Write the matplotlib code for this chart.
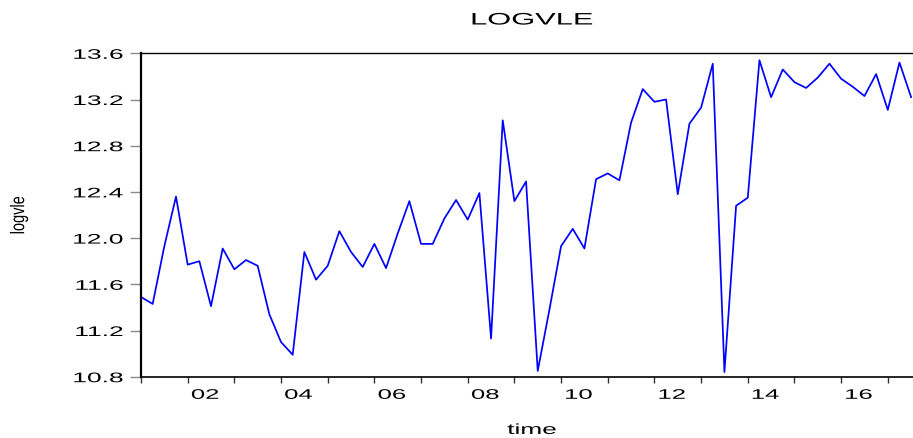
import numpy as np
import matplotlib
matplotlib.use("Agg")
import matplotlib.pyplot as plt
from matplotlib.patheffects import AbstractPathEffect
from matplotlib.transforms import Affine2D

# quarterly series, 2001Q1 onwards
start_year = 2001
logvle = [11.49, 11.43, 11.93, 12.36, 11.77, 11.80, 11.41, 11.91, 11.73, 11.81,
          11.76, 11.34, 11.10, 10.99, 11.88, 11.64, 11.76, 12.06, 11.88, 11.75,
          11.95, 11.74, 12.04, 12.32, 11.95, 11.95, 12.17, 12.33, 12.16, 12.39,
          11.13, 13.02, 12.32, 12.49, 10.85, 11.38, 11.93, 12.08, 11.91, 12.51,
          12.56, 12.50, 13.00, 13.29, 13.18, 13.20, 12.38, 12.99, 13.13, 13.51,
          10.84, 12.28, 12.35, 13.54, 13.22, 13.46, 13.35, 13.30, 13.39, 13.51,
          13.38, 13.31, 13.23, 13.42, 13.11, 13.52, 13.22]
year_labels = ['02', '04', '06', '08', '10', '12', '14', '16']
label_years = [2002, 2004, 2006, 2008, 2010, 2012, 2014, 2016]
y_ticks = [10.8, 11.2, 11.6, 12.0, 12.4, 12.8, 13.2, 13.6]


class Widen(AbstractPathEffect):
    # stretch text horizontally (the reference picture is stretched)
    def __init__(self, sx, anchor='center'):
        super().__init__()
        self.sx = sx
        self.anchor = anchor

    def draw_path(self, renderer, gc, tpath, affine, rgbFace=None):
        ext = tpath.get_extents(affine)
        if self.anchor == 'right':
            cx = ext.x1
        else:
            cx = (ext.x0 + ext.x1) / 2
        t = affine + Affine2D().translate(-cx, 0).scale(self.sx, 1).translate(cx, 0)
        renderer.draw_path(gc, tpath, t, rgbFace)


plt.rcParams['font.family'] = ['Liberation Sans', 'DejaVu Sans']

t = start_year + np.arange(len(logvle)) / 4

fig = plt.figure(figsize=(9.13, 4.38), dpi=100)
ax = fig.add_axes([141 / 913, 1 - 376.7 / 438, 772 / 913, 323.4 / 438])

ax.plot(t, logvle, color='#0000FF', linewidth=1.25)

ax.set_xlim(2001, 2017.54)
ax.set_ylim(10.8, 13.6)

ax.spines['right'].set_visible(False)
ax.spines['left'].set_linewidth(1.6)
ax.spines['bottom'].set_linewidth(1.2)
ax.spines['top'].set_linewidth(1.0)
for s in ax.spines.values():
    s.set_color('black')

ax.set_yticks(y_ticks, labels=['%.1f' % v for v in y_ticks])
ax.tick_params(axis='y', direction='out', length=8, width=1, color='#8a8a8a',
               pad=5, labelsize=10, labelcolor='black')

ax.set_xticks(np.arange(2001, 2018), labels=[])
ax.set_xticks([y + 0.375 for y in label_years], labels=year_labels, minor=True)
ax.tick_params(axis='x', which='major', direction='out', length=4.5, width=1, color='#333333')
ax.tick_params(axis='x', which='minor', length=0, pad=8, labelsize=10, labelcolor='black')

for lab in ax.get_yticklabels():
    lab.set_path_effects([Widen(1.9, 'right')])
for lab in ax.get_xticklabels(minor=True):
    lab.set_path_effects([Widen(1.85)])

ax.set_xlabel('time', fontsize=10.5)
ax.xaxis.set_label_coords((532 - 141) / 772, -0.143)
ax.xaxis.label.set_path_effects([Widen(1.8)])

ax.set_ylabel('logvle', fontsize=10.5, va='center')
ax.yaxis.set_label_coords((18.8 - 141) / 772, 0.5)
ax.yaxis.label.set_path_effects([Widen(1.35)])

title = fig.text(532 / 913, 1 - 20 / 438, 'LOGVLE', ha='center', va='center', fontsize=12)
title.set_path_effects([Widen(1.85)])

fig.savefig('out.png', dpi=100)
